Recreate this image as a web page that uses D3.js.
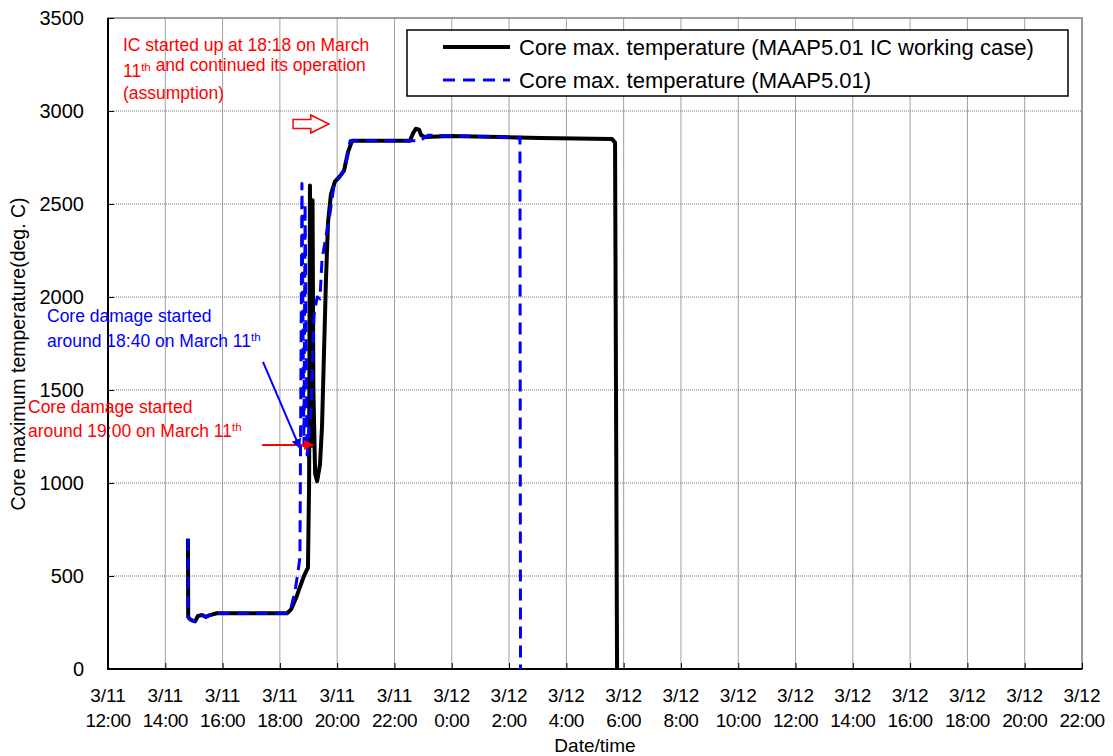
<!DOCTYPE html>
<html>
<head>
<meta charset="utf-8">
<script src="https://cdn.jsdelivr.net/npm/d3@7"></script>
<style>
  body { margin: 0; background: #fff; }
  svg text { font-family: "Liberation Sans", Arial, sans-serif; }
</style>
</head>
<body>
<div id="chart"></div>
<script>
// Hours after 3/11 12:00, core max temperature (deg. C)

var tickLabels1 = ["3/11","3/11","3/11","3/11","3/11","3/11","3/12","3/12","3/12","3/12","3/12","3/12","3/12","3/12","3/12","3/12","3/12","3/12"];
var tickLabels2 = ["12:00","14:00","16:00","18:00","20:00","22:00","0:00","2:00","4:00","6:00","8:00","10:00","12:00","14:00","16:00","18:00","20:00","22:00"];
var yTicks = [0, 500, 1000, 1500, 2000, 2500, 3000, 3500];

// MAAP5.01 IC working case (solid black)
var icHours = [2.79, 2.80, 2.86, 2.93, 3.04, 3.14, 3.28, 3.42, 3.56, 3.80, 6.25, 6.39, 6.56, 6.70, 6.84, 6.98,
               7.02, 7.05, 7.09, 7.14, 7.17, 7.23, 7.30, 7.40, 7.47, 7.54, 7.61, 7.68, 7.78, 7.92, 8.10, 8.24,
               8.38, 8.52, 10.54, 10.65, 10.75, 10.86, 10.93, 11.07, 11.94, 13.68, 15.08, 17.59, 17.70, 17.77];
var icTemps = [700, 280, 268, 262, 256, 285, 290, 280, 290, 300, 300, 320, 380, 440, 500, 545,
               1000, 2600, 1200, 2520, 1500, 1050, 1010, 1100, 1300, 1700, 2100, 2400, 2550, 2620, 2650, 2680,
               2780, 2840, 2840, 2880, 2905, 2900, 2870, 2860, 2865, 2860, 2855, 2850, 2830, 0];

// MAAP5.01 (dashed blue)
var baseHours = [2.79, 2.80, 2.86, 2.93, 3.04, 3.14, 3.28, 3.42, 3.56, 3.80, 6.25, 6.39, 6.53, 6.63, 6.70,
                 6.77, 6.84, 6.88, 6.95, 7.09, 7.19, 7.30, 7.40, 7.47, 7.58, 7.75, 7.89, 8.10, 8.27, 8.45,
                 10.89, 11.17, 13.68, 14.31, 14.38, 14.40];
var baseTemps = [700, 280, 268, 262, 256, 285, 290, 280, 290, 300, 300, 330, 420, 520, 600,
                 2610, 1200, 2500, 1150, 1400, 1900, 2000, 1990, 2200, 2300, 2450, 2600, 2650, 2690, 2840,
                 2840, 2870, 2860, 2855, 2860, 0];

var legendNames = ["Core max. temperature (MAAP5.01 IC working case)", "Core max. temperature (MAAP5.01)"];

var W = 1113, H = 756;
var svg = d3.select("#chart").append("svg")
    .attr("width", W)
    .attr("height", H);

var x = d3.scaleLinear().domain([0, 34]).range([108, 1082]);
var y = d3.scaleLinear().domain([0, 3500]).range([669, 18]);

// grid
var hourTicks = d3.range(0, 35, 2);
svg.append("g").selectAll("line")
    .data(hourTicks)
    .enter().append("line")
    .attr("x1", function(d) { return x(d); })
    .attr("x2", function(d) { return x(d); })
    .attr("y1", y(0))
    .attr("y2", y(3500))
    .style("stroke", "#a0a0a0")
    .style("stroke-width", 1);
svg.append("g").selectAll("line")
    .data(yTicks)
    .enter().append("line")
    .attr("x1", x(0))
    .attr("x2", x(34))
    .attr("y1", function(d) { return y(d); })
    .attr("y2", function(d) { return y(d); })
    .style("stroke", "#777")
    .style("stroke-width", 1)
    .style("stroke-dasharray", "1,1");

// frame
svg.append("rect")
    .attr("x", x(0)).attr("y", y(3500))
    .attr("width", x(34) - x(0)).attr("height", y(0) - y(3500))
    .style("fill", "none")
    .style("stroke", "#888")
    .style("stroke-width", 1.5);

// axes (ticks point inward)
var xAxis = d3.axisTop(x).tickValues(hourTicks).tickSize(6).tickFormat("");
svg.append("g").attr("transform", "translate(0," + y(0) + ")").call(xAxis)
    .call(function(g) { g.select(".domain").remove(); })
    .selectAll("line").style("stroke", "#000");
var yAxis = d3.axisRight(y).tickValues(yTicks).tickSize(6).tickFormat("");
svg.append("g").attr("transform", "translate(" + x(0) + ",0)").call(yAxis)
    .call(function(g) { g.select(".domain").remove(); })
    .selectAll("line").style("stroke", "#000");
svg.append("line")
    .attr("x1", x(0)).attr("x2", x(0)).attr("y1", y(3500)).attr("y2", y(0) + 1)
    .style("stroke", "#000").style("stroke-width", 2);
svg.append("line")
    .attr("x1", x(0) - 1).attr("x2", x(34)).attr("y1", y(0)).attr("y2", y(0))
    .style("stroke", "#000").style("stroke-width", 2);

// tick labels
svg.append("g").selectAll("text")
    .data(yTicks)
    .enter().append("text")
    .attr("x", 84)
    .attr("y", function(d) { return y(d); })
    .attr("dy", "0.36em")
    .style("text-anchor", "end")
    .style("font-size", "20px")
    .text(function(d) { return d; });
var xl = svg.append("g").selectAll("g")
    .data(hourTicks)
    .enter().append("g");
xl.append("text")
    .attr("x", function(d) { return x(d); })
    .attr("y", 702)
    .style("text-anchor", "middle")
    .style("font-size", "19px")
    .text(function(d, i) { return tickLabels1[i]; });
xl.append("text")
    .attr("x", function(d) { return x(d); })
    .attr("y", 727)
    .style("text-anchor", "middle")
    .style("font-size", "19px")
    .style("letter-spacing", "-0.5px")
    .text(function(d, i) { return tickLabels2[i]; });

svg.append("text")
    .attr("x", 595).attr("y", 752)
    .style("text-anchor", "middle")
    .style("font-size", "19px")
    .text("Date/time");
svg.append("text")
    .attr("transform", "translate(25,354) rotate(-90)")
    .style("text-anchor", "middle")
    .style("font-size", "19.5px")
    .text("Core maximum temperature(deg. C)");

// series
var line = d3.line()
    .x(function(d) { return x(d[0]); })
    .y(function(d) { return y(d[1]); });
var icData = icHours.map(function(h, i) { return [h, icTemps[i]]; });
var baseData = baseHours.map(function(h, i) { return [h, baseTemps[i]]; });

svg.append("path")
    .attr("d", line(icData))
    .style("fill", "none")
    .style("stroke", "#000")
    .style("stroke-width", 4)
    .style("stroke-linejoin", "round");
svg.append("path")
    .attr("d", line(baseData))
    .style("fill", "none")
    .style("stroke", "#0000ff")
    .style("stroke-width", 3)
    .style("stroke-dasharray", "12,7")
    .style("stroke-linejoin", "round");

// legend
svg.append("rect")
    .attr("x", 407).attr("y", 30)
    .attr("width", 661).attr("height", 66)
    .style("fill", "#fff")
    .style("stroke", "#000")
    .style("stroke-width", 1.5);
var legStyles = [{c: "#000", w: 4, dash: null}, {c: "#0000ff", w: 3, dash: "12,8"}];
legendNames.forEach(function(name, i) {
    var ly = 47 + i * 33;
    svg.append("line")
        .attr("x1", 443).attr("x2", 510).attr("y1", ly).attr("y2", ly)
        .style("stroke", legStyles[i].c)
        .style("stroke-width", legStyles[i].w)
        .style("stroke-dasharray", legStyles[i].dash);
    svg.append("text")
        .attr("x", 519).attr("y", ly)
        .attr("dy", "0.36em")
        .style("font-size", "22px")
        .text(name);
});

// annotations
function noteLine(xp, yp, color, parts) {
    var t = svg.append("text")
        .attr("x", xp).attr("y", yp)
        .style("fill", color)
        .style("font-size", "17.5px");
    parts.forEach(function(p) {
        if (p.sup) {
            t.append("tspan").attr("dy", -6).style("font-size", "11.5px").text(p.s);
            t.append("tspan").attr("dy", 6).text("");
        } else {
            t.append("tspan").text(p.s);
        }
    });
}
noteLine(123, 51, "#ff0000", [{s: "IC started up at 18:18 on March"}]);
noteLine(123, 77, "#ff0000", [{s: "11"}, {s: "th", sup: true}, {s: " and continued its operation"}]);
noteLine(123, 99, "#ff0000", [{s: "(assumption)"}]);
noteLine(47, 322, "#0000ff", [{s: "Core damage started"}]);
noteLine(47, 347, "#0000ff", [{s: "around 18:40 on March 11"}, {s: "th", sup: true}]);
noteLine(28, 413, "#ff0000", [{s: "Core damage started"}]);
noteLine(28, 437, "#ff0000", [{s: "around 19:00 on March 11"}, {s: "th", sup: true}]);

var defs = svg.append("defs");
[["redHead", "#ff0000"], ["blueHead", "#0000ff"]].forEach(function(m) {
    defs.append("marker")
        .attr("id", m[0])
        .attr("viewBox", "0 0 10 10")
        .attr("refX", 9).attr("refY", 5)
        .attr("markerWidth", 5).attr("markerHeight", 5)
        .attr("orient", "auto")
        .append("path")
        .attr("d", "M0,0 L10,5 L0,10 Z")
        .style("fill", m[1]);
});
svg.append("line")
    .attr("x1", x(5.38)).attr("y1", y(1204))
    .attr("x2", x(7.16)).attr("y2", y(1204))
    .style("stroke", "#ff0000").style("stroke-width", 2)
    .attr("marker-end", "url(#redHead)");
svg.append("line")
    .attr("x1", x(5.41)).attr("y1", y(1651))
    .attr("x2", x(6.70)).attr("y2", y(1188))
    .style("stroke", "#0000ff").style("stroke-width", 2)
    .attr("marker-end", "url(#blueHead)");

// hollow block arrow
var ax0 = x(6.46), ax1 = x(7.08), ax2 = x(7.71), ay = y(2930);
svg.append("path")
    .attr("d", "M" + ax0 + "," + (ay - 4.5) + " L" + ax1 + "," + (ay - 4.5) + " L" + ax1 + "," + (ay - 9) +
               " L" + ax2 + "," + ay + " L" + ax1 + "," + (ay + 9) + " L" + ax1 + "," + (ay + 4.5) +
               " L" + ax0 + "," + (ay + 4.5) + " Z")
    .style("fill", "#fff")
    .style("stroke", "#ff0000")
    .style("stroke-width", 1.5);
</script>
</body>
</html>
